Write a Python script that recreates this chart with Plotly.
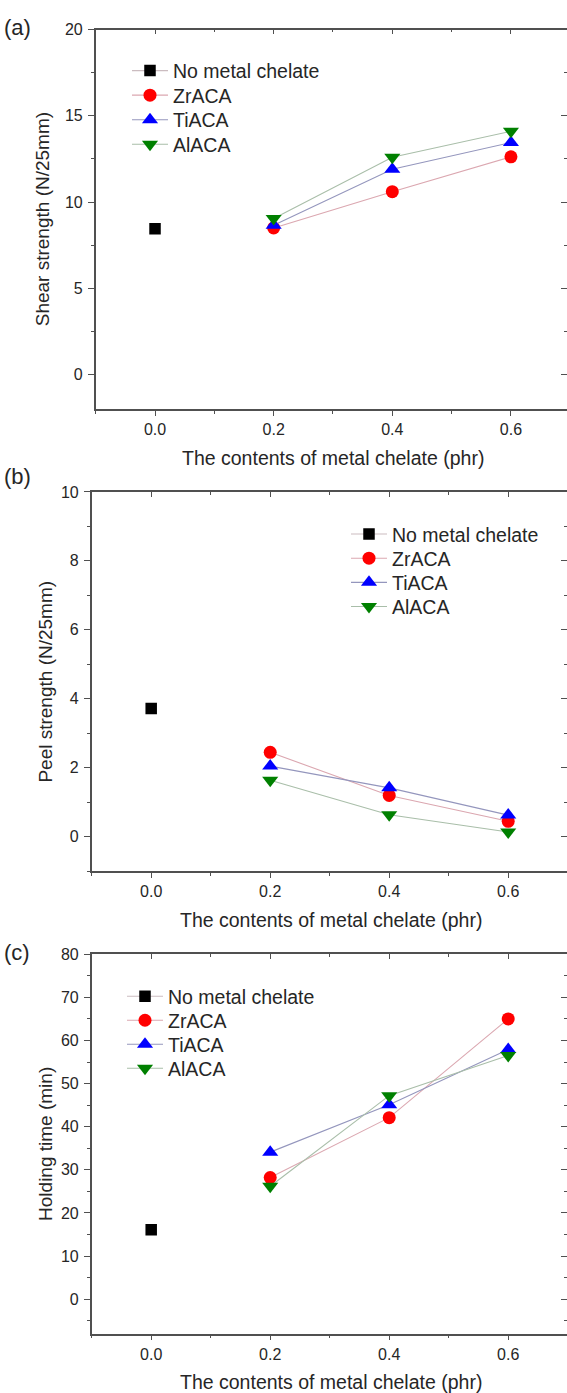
import plotly.graph_objects as go

# ---------------- data ----------------
x_none = [0.0]
x_chel = [0.2, 0.4, 0.6]

series_names = ["No metal chelate", "ZrACA", "TiACA", "AlACA"]

# (a) shear strength (N/25mm)
shear_none = [8.45]
shear_zr = [8.5, 10.6, 12.62]
shear_ti = [8.65, 11.9, 13.45]
shear_al = [9.05, 12.6, 14.1]

# (b) peel strength (N/25mm)
peel_none = [3.72]
peel_zr = [2.45, 1.2, 0.45]
peel_ti = [2.05, 1.42, 0.63]
peel_al = [1.64, 0.64, 0.14]

# (c) holding time (min)
hold_none = [16.1]
hold_zr = [28.2, 42.1, 65.0]
hold_ti = [34.1, 45.1, 57.9]
hold_al = [26.2, 47.2, 56.5]

panel_labels = ["(a)", "(b)", "(c)"]
y_titles = ["Shear strength (N/25mm)", "Peel strength (N/25mm)", "Holding time (min)"]
x_title = "The contents of metal chelate (phr)"

# ---------------- style ----------------
W, H = 567, 1393
FONT = "Liberation Sans, Arial, sans-serif"
TXT = "#262626"
AX = "#505050"

styles = [
    dict(symbol="square", color="#000000", size=11.5, line="#cbbcc0"),
    dict(symbol="circle", color="#ff0000", size=13, line="#dba7b0"),
    dict(symbol="triangle-up", color="#0000ff", size=14, line="#9496bd"),
    dict(symbol="triangle-down", color="#008000", size=14, line="#a9bea9"),
]

panels = [
    dict(data=[shear_none, shear_zr, shear_ti, shear_al], yr=[-2, 20], dy=5,
         left=95.7, top=21.7, bot=403.3, xmax=0.6945,
         leg_x=127, leg_y=[63.3, 88.0, 112.7, 137.3], ytx=42, lab_y=20),
    dict(data=[peel_none, peel_zr, peel_ti, peel_al], yr=[-1, 10], dy=2,
         left=91.7, top=486.7, bot=868.3, xmax=0.6988,
         leg_x=346, leg_y=[529.3, 553.7, 578.0, 602.3], ytx=46, lab_y=471),
    dict(data=[hold_none, hold_zr, hold_ti, hold_al], yr=[-8, 80], dy=10,
         left=91.7, top=951.7, bot=1333.3, xmax=0.6988,
         leg_x=122, leg_y=[994.3, 1018.4, 1042.5, 1066.7], ytx=46, lab_y=950),
]

fig = go.Figure()
annotations = []
layout = {}
leg_count = 0

for i, p in enumerate(panels):
    main_x = "x" if i == 0 else f"x{2*i+1}"
    main_y = "y" if i == 0 else f"y{2*i+1}"
    ov_x = f"x{2*i+2}"
    ov_y = f"y{2*i+2}"

    for k, (name, st, vals) in enumerate(zip(series_names, styles, p["data"])):
        leg_count += 1
        leg_name = "legend" if leg_count == 1 else f"legend{leg_count}"
        xs = x_none if k == 0 else x_chel
        xa, ya = (ov_x, ov_y) if k == 0 else (main_x, main_y)
        fig.add_trace(go.Scatter(
            x=xs, y=vals, name=name, mode="lines+markers",
            xaxis=xa, yaxis=ya, legend=leg_name,
            line=dict(color=st["line"], width=1.1),
            marker=dict(symbol=st["symbol"], color=st["color"], size=st["size"],
                        line=dict(width=0)),
            hoverinfo="x+y+name",
        ))
        layout[leg_name] = dict(
            x=p["leg_x"] / W, y=1 - p["leg_y"][k] / H,
            xanchor="left", yanchor="middle",
            xref="paper", yref="paper",
            bgcolor="rgba(0,0,0,0)", borderwidth=0,
            font=dict(family=FONT, size=19.5, color=TXT),
            itemwidth=36,
        )

    xdom = [p["left"] / W, 1.0]
    ydom = [1 - p["bot"] / H, 1 - p["top"] / H]
    xr = [-0.1, p["xmax"]]

    common_x = dict(range=xr, domain=xdom, dtick=0.2, tick0=0, showgrid=False,
                    zeroline=False, tickcolor=AX, tickwidth=1.4, linecolor=AX,
                    linewidth=1.5)
    common_y = dict(range=p["yr"], domain=ydom, dtick=p["dy"], tick0=0,
                    showgrid=False, zeroline=False, tickcolor=AX, tickwidth=1.4,
                    linecolor=AX, linewidth=1.5)

    ax_key = lambda a: "xaxis" if a == "x" else "xaxis" + a[1:]
    ay_key = lambda a: "yaxis" if a == "y" else "yaxis" + a[1:]

    layout[ax_key(main_x)] = dict(
        **common_x, anchor=main_y, side="bottom", showline=True,
        ticks="outside", ticklen=5, tickformat=".1f",
        ticklabelstandoff=0,
        tickfont=dict(family=FONT, size=16, color=TXT),
        minor=dict(dtick=0.1, tick0=0, ticks="outside", ticklen=3,
                   tickcolor=AX, tickwidth=1.2),
    )
    layout[ay_key(main_y)] = dict(
        **common_y, anchor=main_x, side="left", showline=True,
        ticks="outside", ticklen=6, ticklabelstandoff=2,
        tickfont=dict(family=FONT, size=16, color=TXT),
        minor=dict(dtick=p["dy"] / 2, tick0=0, ticks="outside", ticklen=3,
                   tickcolor=AX, tickwidth=1.2),
    )
    layout[ax_key(ov_x)] = dict(
        **common_x, anchor=ov_y, overlaying=main_x, side="top", showline=True,
        ticks="inside", ticklen=5, showticklabels=False,
        minor=dict(dtick=0.1, tick0=0, ticks="inside", ticklen=3,
                   tickcolor=AX, tickwidth=1.2),
    )
    layout[ay_key(ov_y)] = dict(
        **common_y, anchor=ov_x, overlaying=main_y, side="right", showline=False,
        ticks="inside", ticklen=6, showticklabels=False,
        minor=dict(dtick=p["dy"] / 2, tick0=0, ticks="inside", ticklen=3,
                   tickcolor=AX, tickwidth=1.2),
    )

    # panel label
    annotations.append(dict(text=panel_labels[i], x=17 / W, y=1 - p["lab_y"] / H,
                            xref="paper", yref="paper", showarrow=False,
                            xanchor="center", yanchor="middle",
                            font=dict(family=FONT, size=22, color=TXT)))
    # y title
    annotations.append(dict(text=y_titles[i], x=p["ytx"] / W,
                            y=1 - (p["top"] + p["bot"]) / 2 / H,
                            xref="paper", yref="paper", showarrow=False,
                            textangle=-90, xanchor="center", yanchor="middle",
                            font=dict(family=FONT, size=19, color=TXT)))
    # x title
    annotations.append(dict(text=x_title, x=(p["left"] + 570) / 2 / W,
                            y=1 - (p["bot"] + 49) / H,
                            xref="paper", yref="paper", showarrow=False,
                            xanchor="center", yanchor="middle",
                            font=dict(family=FONT, size=19.5, color=TXT)))

fig.update_layout(
    width=W, height=H,
    margin=dict(l=0, r=0, t=0, b=0, pad=0),
    paper_bgcolor="white", plot_bgcolor="white",
    showlegend=True,
    annotations=annotations,
    font=dict(family=FONT, color=TXT),
    **layout,
)

fig.write_html("out.html")
